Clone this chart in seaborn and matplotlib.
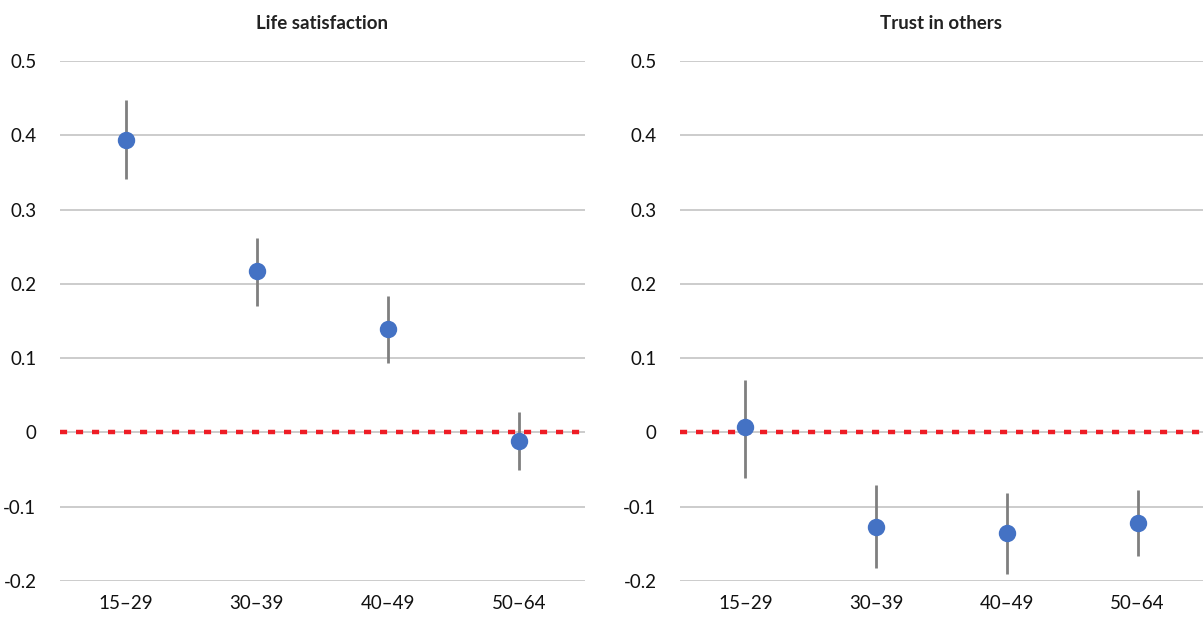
import matplotlib
matplotlib.use("Agg")
import matplotlib.pyplot as plt
import seaborn as sns
import numpy as np

# Age groups on the x axis
age_groups = ["15–29", "30–39", "40–49", "50–64"]

# Life satisfaction: estimate and confidence interval bounds
life_est = [0.394, 0.217, 0.139, -0.011]
life_lo = [0.341, 0.170, 0.094, -0.050]
life_hi = [0.448, 0.262, 0.183, 0.027]

# Trust in others: estimate and confidence interval bounds
trust_est = [0.007, -0.127, -0.136, -0.122]
trust_lo = [-0.061, -0.183, -0.190, -0.167]
trust_hi = [0.071, -0.071, -0.082, -0.078]

y_ticks = [0.5, 0.4, 0.3, 0.2, 0.1, 0.0, -0.1, -0.2]
y_tick_labels = ["0.5", "0.4", "0.3", "0.2", "0.1", "0", "-0.1", "-0.2"]

sns.set_theme(style="white")
plt.rcParams["font.family"] = ["Lato", "DejaVu Sans"]

fig = plt.figure(figsize=(12.03, 6.21), dpi=100)
ax1 = fig.add_axes([60 / 1203, 1 - 581 / 621, 525 / 1203, 520 / 621])
ax2 = fig.add_axes([680 / 1203, 1 - 581 / 621, 523 / 1203, 520 / 621])

panels = [
    (ax1, "Life satisfaction", life_est, life_lo, life_hi),
    (ax2, "Trust in others", trust_est, trust_lo, trust_hi),
]

for ax, title, est, lo, hi in panels:
    ax.set_ylim(-0.2, 0.5)
    ax.set_yticks(y_ticks)
    ax.set_yticklabels(y_tick_labels)
    ax.grid(axis="y", color="#BFBFBF", linewidth=1.1, zorder=0)
    ax.grid(axis="x", visible=False)
    for s in ax.spines.values():
        s.set_visible(False)

    # Reference line at zero
    ax.axhline(0, color="#EE1C25", linewidth=3.2, linestyle=(0, (1.6, 2.0)), zorder=1)

    # Confidence intervals
    ax.vlines(np.arange(len(age_groups)), lo, hi, color="#7F7F7F", linewidth=2.0, zorder=2)

    # Point estimates
    sns.pointplot(x=age_groups, y=est, ax=ax, linestyle="none", markers="o",
                  color="#4472C4", markersize=10.5, errorbar=None, zorder=3)

    ax.set_xlim(-0.5, len(age_groups) - 0.5)
    ax.set_ylim(-0.2, 0.5)
    ax.set_title(title, fontsize=13.5, fontweight="bold", color="#222222", pad=23)
    ax.tick_params(axis="both", length=0, labelsize=13.5, colors="#111111")
    ax.tick_params(axis="y", pad=17)
    ax.tick_params(axis="x", pad=10)
    ax.set_xlabel("")
    ax.set_ylabel("")

fig.savefig("out.png", dpi=100)
